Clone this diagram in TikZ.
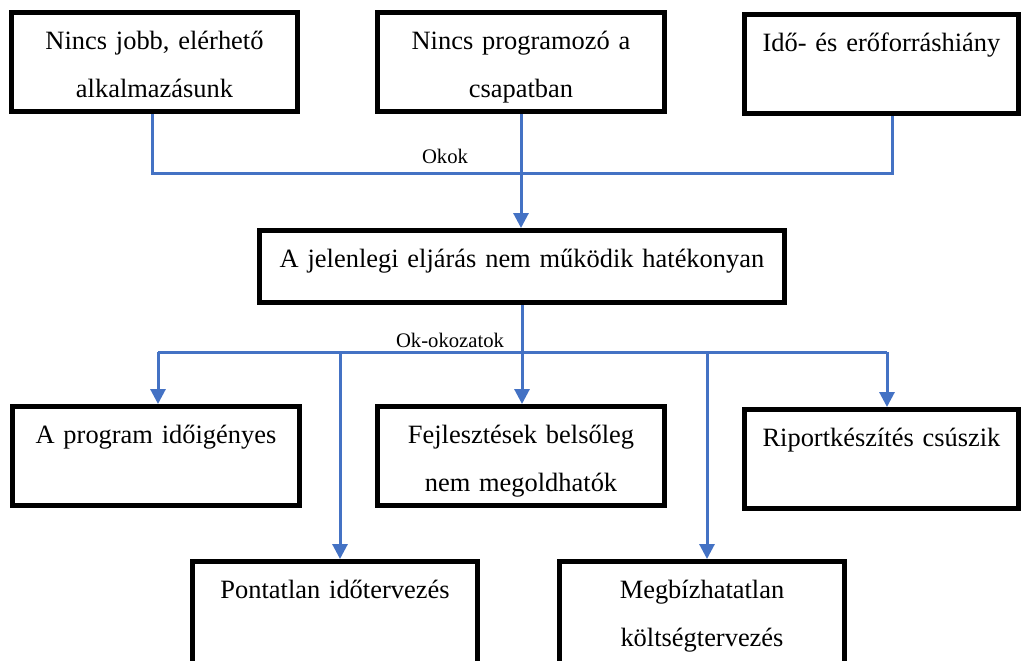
\documentclass[tikz,border=0pt]{standalone}
\usepackage{fontspec}
\setmainfont{Liberation Serif}
\usepackage{xcolor}
\usetikzlibrary{arrows.meta}
\definecolor{linkblue}{HTML}{4472C4}

\begin{document}
\begin{tikzpicture}[
    x=0.025cm, y=-0.025cm,
    box/.style={draw, line width=0.125cm, inner sep=0pt, text width=7.15cm, align=center, anchor=north, text height=0.92cm, text depth=1.56cm, font=\fontsize{18.8pt}{34pt}\selectfont},
    link/.style={draw=linkblue, line width=0.075cm},
    arrow/.style={link, -{Triangle[length=0.375cm, width=0.375cm]}},
    tag/.style={anchor=base, inner sep=0pt, font=\fontsize{14.7pt}{17pt}\selectfont}
]
\useasboundingbox (0,0) rectangle (1021,660);
% okok
\node[box] (b1) at (154.5,10) {Nincs jobb, elérhető\\alkalmazásunk};
\node[box, text width=7.175cm] (b2) at (521,10) {Nincs programozó a\\csapatban};
\node[box, text width=6.85cm] (b3) at (881.5,12) {Idő- és erőforráshiány};
% probléma
\node[box, text width=13.125cm, text depth=0.88cm] (mid) at (522,228) {A jelenlegi eljárás nem működik hatékonyan};
% okozatok
\node[box, text width=7.175cm] (eA) at (156,404) {A program időigényes};
\node[box, text width=7.175cm] (eF) at (521,404) {Fejlesztések belsőleg\\nem megoldhatók};
\node[box, text width=6.85cm] (eR) at (881.5,407) {Riportkészítés csúszik};
\node[box, text width=7.125cm, text depth=1.7cm] (eP) at (335,559) {Pontatlan időtervezés};
\node[box, text width=7.125cm, text depth=1.7cm] (eM) at (702,559) {Megbízhatatlan\\költségtervezés};

\coordinate (okl) at (152,173);
\coordinate (okr) at (892,173);
\draw[link] (b1.south -| okl) -- (okl) -- (okr) -- (b3.south -| okr);
\draw[arrow] (b2.south) -- (b2.south |- mid.north);
\node[tag] (okok) at (445,163) {Okok};

\coordinate (ekl) at (158,352);
\coordinate (ekr) at (887,352);
\coordinate (ekp) at (340,352);
\coordinate (ekm) at (707,352);
\draw[link] (mid.south) -- (mid.south |- ekl);
\draw[link] (ekl) -- (ekr);
\draw[arrow] (ekl) -- (ekl |- eA.north);
\draw[arrow] (mid.south |- ekl) -- (mid.south |- eF.north);
\draw[arrow] (ekr) -- (ekr |- eR.north);
\draw[arrow] (ekp) -- (ekp |- eP.north);
\draw[arrow] (ekm) -- (ekm |- eM.north);
\node[tag] (okoz) at (450,347) {Ok-okozatok};
\end{tikzpicture}
\end{document}
